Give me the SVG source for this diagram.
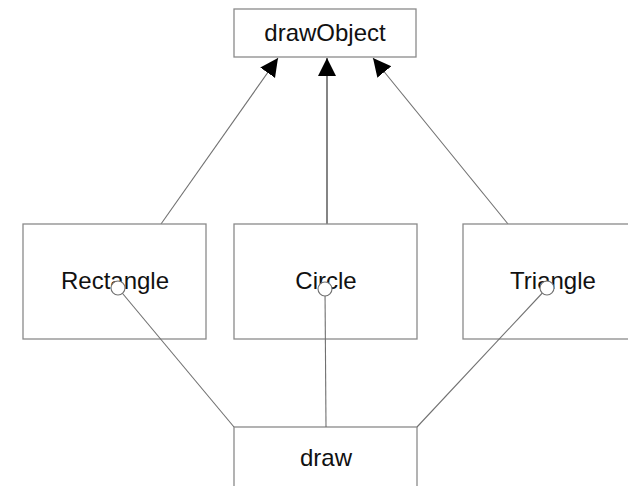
<svg xmlns="http://www.w3.org/2000/svg" width="628" height="486" viewBox="0 0 628 486">
  <style>
    .box { fill: #ffffff; stroke: #8a8a8a; stroke-width: 1.3; }
    .label { font-family: "Liberation Sans", Arial, sans-serif; font-size: 24px; fill: #111111; text-anchor: middle; }
    .edge { stroke: #707070; stroke-width: 1.1; fill: none; }
    .inherit { stroke: #202020; }
    .port { fill: #ffffff; stroke: #707070; stroke-width: 1.1; }
  </style>
  <defs>
    <marker id="tri" markerUnits="userSpaceOnUse" markerWidth="19" markerHeight="19" refX="18" refY="9" orient="auto">
      <path d="M0,0 L18,9 L0,18 z" fill="#000000"/>
    </marker>
  </defs>
  <rect width="628" height="486" fill="#ffffff"/>

  <!-- connectors -->
  <g id="connectors">
    <line class="edge" x1="161" y1="224" x2="278" y2="58" marker-end="url(#tri)"/>
    <line class="edge inherit" x1="327" y1="224" x2="327" y2="58" marker-end="url(#tri)"/>
    <line class="edge" x1="508" y1="224" x2="373" y2="58" marker-end="url(#tri)"/>
  </g>

  <g id="drawObject">
    <rect class="box" x="234" y="9" width="182" height="48"/>
    <text class="label" x="325" y="41">drawObject</text>
  </g>

  <g id="Rectangle">
    <rect class="box" x="23" y="224" width="183" height="115"/>
    <text class="label" x="115" y="289">Rectangle</text>
  </g>

  <g id="Circle">
    <rect class="box" x="234" y="224" width="183" height="115"/>
    <text class="label" x="326" y="289">Circle</text>
  </g>

  <g id="Triangle">
    <rect class="box" x="463" y="224" width="180" height="115"/>
    <text class="label" x="553" y="289">Triangle</text>
  </g>

  <g id="draw">
    <rect class="box" x="234" y="427" width="183" height="70"/>
    <text class="label" x="326" y="466">draw</text>
  </g>

  <!-- interface links from the draw node to each shape -->
  <g id="interface-links">
    <line class="edge" x1="118" y1="288" x2="234" y2="427"/>
    <line class="edge" x1="325" y1="289" x2="326" y2="427"/>
    <line class="edge" x1="547" y1="288" x2="417" y2="427"/>
    <circle class="port" cx="118" cy="288" r="7"/>
    <circle class="port" cx="325" cy="289" r="7"/>
    <circle class="port" cx="547" cy="288" r="7"/>
  </g>
</svg>
